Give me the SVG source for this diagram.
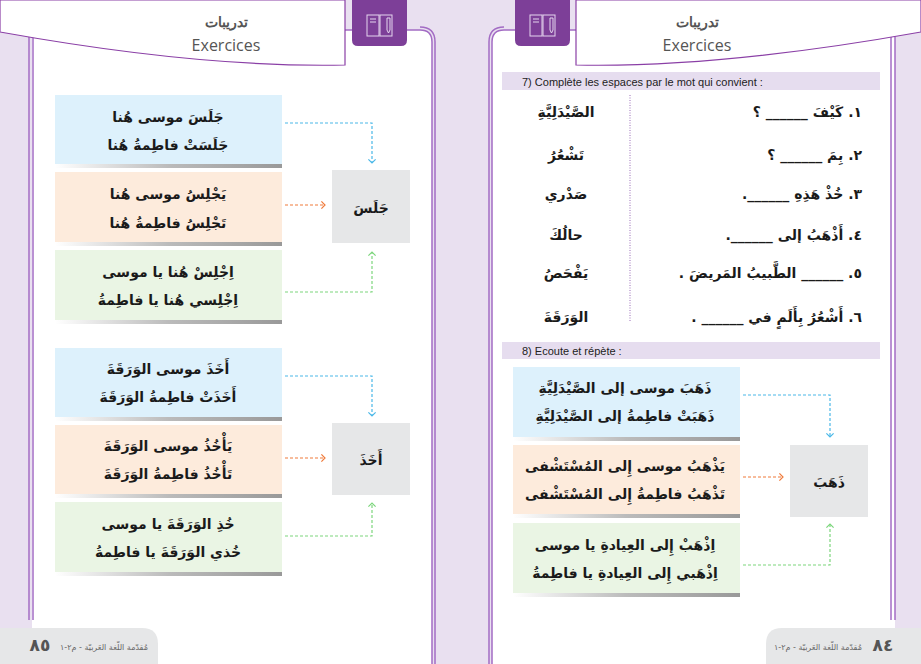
<svg xmlns="http://www.w3.org/2000/svg" width="921" height="664" viewBox="0 0 921 664">
<defs>
<style>
.ar{font-family:"DejaVu Sans",sans-serif;font-size:14px;fill:#1a1a1a;text-anchor:middle;font-weight:bold;direction:rtl}
.fr{font-family:"Liberation Sans",Arial,sans-serif;font-size:11px;fill:#222}
.tt{font-family:"Open Sans","Liberation Sans",sans-serif;fill:#555;text-anchor:middle}
.blue{fill:#ddf1fc}.peach{fill:#fdebdc}.green{fill:#eaf5e4}.gray{fill:#e6e7e8}
.frame{fill:none;stroke:#a36cc4;stroke-width:1.5}
.c{fill:none;stroke-width:1.2;stroke-dasharray:3 2}
</style>
<linearGradient id="sh" x1="0" x2="1"><stop offset="0" stop-color="#fff"/><stop offset="0.5" stop-color="#bbb"/><stop offset="1" stop-color="#999"/></linearGradient>
<marker id="ab" markerWidth="8" markerHeight="8" refX="4" refY="4" orient="auto"><path d="M1,1 L4,4 L1,7" fill="none" stroke="#4ab8e8" stroke-width="1"/></marker>
<marker id="ao" markerWidth="8" markerHeight="8" refX="4" refY="4" orient="auto"><path d="M1,1 L4,4 L1,7" fill="none" stroke="#f07a3a" stroke-width="1"/></marker>
<marker id="ag" markerWidth="8" markerHeight="8" refX="4" refY="4" orient="auto"><path d="M1,1 L4,4 L1,7" fill="none" stroke="#7cd67c" stroke-width="1"/></marker>
</defs>
<rect width="921" height="664" fill="#e9e0f0"/>
<path d="M32,30 H420 Q432,30 432,42 V664 H32 Z" fill="#fff"/>
<path d="M30,30 H420 Q432,30 432,42 V664" class="frame"/>
<path d="M29,30 V620" class="frame"/>
<path d="M33,30 V620" class="frame"/>
<path d="M492,664 V42 Q492,30 504,30 H895 V664 Z" fill="#fff"/>
<path d="M492,664 V42 Q492,30 504,30 H895" class="frame"/>
<path d="M895,30 V620" class="frame"/><path d="M891,30 V620" class="frame"/>
<path d="M489,664 V42 Q489,27 504,27" class="frame" stroke-width="1"/>
<path d="M435,664 V42 Q435,27 420,27" class="frame" stroke-width="1"/>
<path d="M0,0 H345 V65 Q200,68 0,32 Z" fill="#fff" stroke="#8a3fa6" stroke-width="1.2"/>
<path d="M352,0 H407 V40 Q407,46 401,46 H358 Q352,46 352,40 Z" fill="#7d3f98"/>
<path d="M576,0 H921 V32 Q720,68 576,65 Z" fill="#fff" stroke="#8a3fa6" stroke-width="1.2"/>
<path d="M515,0 H570 V40 Q570,46 564,46 H521 Q515,46 515,40 Z" fill="#7d3f98"/>
<g fill="none" stroke="#e5d6ee" stroke-width="1"><rect x="367" y="15" width="12" height="21"/><rect x="380" y="15" width="12" height="21"/><path d="M370,19h6M370,22h6M387,18v12l1.5,3l1.5,-3v-12z"/>
<rect x="530" y="15" width="12" height="21"/><rect x="543" y="15" width="12" height="21"/><path d="M533,19h6M533,22h6M550,18v12l1.5,3l1.5,-3v-12z"/></g>
<text class="tt" x="226" y="27" font-size="14" font-weight="bold" font-family="DejaVu Sans" direction="rtl">تدريبات</text>
<text class="tt" x="226" y="51" font-size="16">Exercices</text>
<text class="tt" x="697" y="27" font-size="14" font-weight="bold" font-family="DejaVu Sans" direction="rtl">تدريبات</text>
<text class="tt" x="697" y="51" font-size="16">Exercices</text>
<path d="M0,628 H142 Q158,628 158,644 V664 H0 Z" fill="#e6e7e8"/>
<path d="M921,628 H782 Q766,628 766,644 V664 H921 Z" fill="#e6e7e8"/>
<text x="40" y="651" font-family="DejaVu Sans" font-size="17" font-weight="bold" fill="#555" text-anchor="middle">٨٥</text>
<text x="104" y="650" font-family="DejaVu Sans" font-size="8" fill="#666" text-anchor="middle" direction="rtl">مُقدّمة اللّغة العَربيّة - م٢-١</text>
<text x="883" y="651" font-family="DejaVu Sans" font-size="17" font-weight="bold" fill="#555" text-anchor="middle">٨٤</text>
<text x="818" y="650" font-family="DejaVu Sans" font-size="8" fill="#666" text-anchor="middle" direction="rtl">مُقدّمة اللّغة العَربيّة - م٢-١</text>
<g id="n1"><rect x="55" y="164" width="227" height="4" fill="url(#sh)"/><rect class="blue" x="55" y="95" width="227" height="69"/><text class="ar" x="168" y="122">جَلَسَ موسى هُنا</text><text class="ar" x="168" y="150">جَلَسَتْ فاطِمةُ هُنا</text></g>
<g id="n2"><rect x="55" y="242" width="227" height="4" fill="url(#sh)"/><rect class="peach" x="55" y="172" width="227" height="70"/><text class="ar" x="168" y="199">يَجْلِسُ موسى هُنا</text><text class="ar" x="168" y="228">تَجْلِسُ فاطِمةُ هُنا</text></g>
<g id="n3"><rect x="55" y="320" width="227" height="4" fill="url(#sh)"/><rect class="green" x="55" y="250" width="227" height="70"/><text class="ar" x="168" y="277">اِجْلِسْ هُنا يا موسى</text><text class="ar" x="168" y="305">اِجْلِسي هُنا يا فاطِمةُ</text></g>
<g id="n4"><rect class="gray" x="332" y="170" width="78" height="73"/><text class="ar" x="371" y="213" font-size="17">جَلَسَ</text></g>
<g id="n5"><rect x="55" y="417" width="227" height="4" fill="url(#sh)"/><rect class="blue" x="55" y="348" width="227" height="69"/><text class="ar" x="168" y="374">أَخَذَ موسى الوَرَقَةَ</text><text class="ar" x="168" y="402">أَخَذَتْ فاطِمةُ الوَرَقَةَ</text></g>
<g id="n6"><rect x="55" y="494" width="227" height="4" fill="url(#sh)"/><rect class="peach" x="55" y="425" width="227" height="69"/><text class="ar" x="168" y="451">يَأْخُذُ موسى الوَرَقَةَ</text><text class="ar" x="168" y="479">تَأْخُذُ فاطِمةُ الوَرَقَةَ</text></g>
<g id="n7"><rect x="55" y="572" width="227" height="4" fill="url(#sh)"/><rect class="green" x="55" y="502" width="227" height="70"/><text class="ar" x="168" y="529">خُذِ الوَرَقَةَ يا موسى</text><text class="ar" x="168" y="557">خُذي الوَرَقَةَ يا فاطِمةُ</text></g>
<g id="n8"><rect class="gray" x="332" y="423" width="78" height="72"/><text class="ar" x="371" y="465" font-size="17">أَخَذَ</text></g>
<g id="ex7">
<rect x="502" y="72" width="378" height="18" fill="#e6ddef"/>
<text class="fr" x="522" y="86">7) Complète les espaces par le mot qui convient :</text>
<line x1="630" y1="95" x2="630" y2="322" stroke="#9a6cb8" stroke-width="1" stroke-dasharray="1 1.5"/>
<g class="ar" style="text-anchor:start">
<text x="862" y="117">١. كَيْفَ ______ ؟</text>
<text x="862" y="160">٢. بِمَ ______ ؟</text>
<text x="862" y="199">٣. خُذْ هَذِهِ ______.</text>
<text x="862" y="240">٤. أَذْهَبُ إلى ______.</text>
<text x="862" y="278">٥. ______ الطَّبيبُ المَريضَ .</text>
<text x="862" y="322">٦. أَشْعُرُ بِأَلَمٍ في ______ .</text>
</g>
<g class="ar">
<text x="566" y="117">الصَّيْدَلِيَّةِ</text>
<text x="566" y="160">تَشْعُرُ</text>
<text x="566" y="199">صَدْري</text>
<text x="566" y="240">حالُكَ</text>
<text x="566" y="278">يَفْحَصُ</text>
<text x="566" y="322">الوَرَقَةَ</text>
</g>
</g>
<rect x="502" y="342" width="378" height="17" fill="#e6ddef"/>
<text class="fr" x="522" y="355">8) Ecoute et répète :</text>
<g id="n9"><rect x="513" y="437" width="227" height="4" fill="url(#sh)"/><rect class="blue" x="513" y="367" width="227" height="70"/><text class="ar" x="625" y="393">ذَهَبَ موسى إلى الصَّيْدَلِيَّةِ</text><text class="ar" x="625" y="421">ذَهَبَتْ فاطِمةُ إلى الصَّيْدَلِيَّةِ</text></g>
<g id="n10"><rect x="513" y="514" width="227" height="4" fill="url(#sh)"/><rect class="peach" x="513" y="445" width="227" height="69"/><text class="ar" x="625" y="471">يَذْهَبُ موسى إِلى المُسْتَشْفى</text><text class="ar" x="625" y="499">تَذْهَبُ فاطِمةُ إِلى المُسْتَشْفى</text></g>
<g id="n11"><rect x="513" y="593" width="227" height="4" fill="url(#sh)"/><rect class="green" x="513" y="523" width="227" height="70"/><text class="ar" x="625" y="550">اِذْهَبْ إِلى العِيادةِ يا موسى</text><text class="ar" x="625" y="578">اِذْهَبي إِلى العِيادةِ يا فاطِمةُ</text></g>
<g id="n12"><rect class="gray" x="790" y="445" width="78" height="72"/><text class="ar" x="829" y="487" font-size="17">ذَهَبَ</text></g>
<g id="connectors">
<path class="c" stroke="#4ab8e8" d="M285,123 H372 V163" marker-end="url(#ab)"/>
<path class="c" stroke="#f07a3a" d="M285,205 H325" marker-end="url(#ao)"/>
<path class="c" stroke="#7cd67c" d="M285,292 H372 V252" marker-end="url(#ag)"/>
<path class="c" stroke="#4ab8e8" d="M285,376 H372 V416" marker-end="url(#ab)"/>
<path class="c" stroke="#f07a3a" d="M285,458 H325" marker-end="url(#ao)"/>
<path class="c" stroke="#7cd67c" d="M285,536 H372 V503" marker-end="url(#ag)"/>
<path class="c" stroke="#4ab8e8" d="M743,395 H830 V437" marker-end="url(#ab)"/>
<path class="c" stroke="#f07a3a" d="M743,477 H783" marker-end="url(#ao)"/>
<path class="c" stroke="#7cd67c" d="M743,565 H830 V524" marker-end="url(#ag)"/>
</g>
</svg>
